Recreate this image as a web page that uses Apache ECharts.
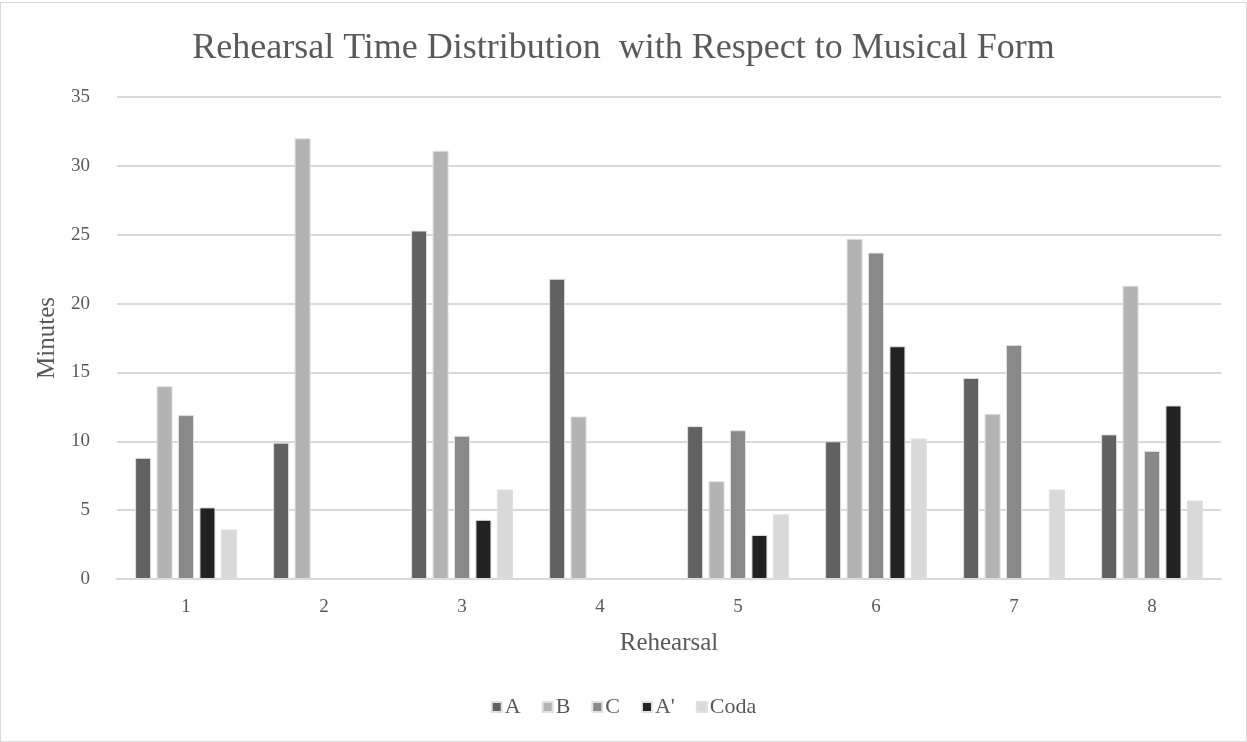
<!DOCTYPE html>
<html><head><meta charset="utf-8">
<script src="https://cdn.jsdelivr.net/npm/echarts@6/dist/echarts.min.js"></script>
<style>html,body{margin:0;padding:0;background:#fff}#c{width:1245px;height:738px;border:1px solid #d9d9d9;margin-top:2px}</style>
</head><body><div id="c"></div>
<script>
const categories = ['1','2','3','4','5','6','7','8'];
const seriesNames = ['A','B','C',"A'",'Coda'];
const valuesA = [8.8, 9.9, 25.3, 21.8, 11.1, 10.0, 14.6, 10.5];
const valuesB = [14.0, 32.0, 31.1, 11.8, 7.1, 24.7, 12.0, 21.3];
const valuesC = [11.9, null, 10.4, null, 10.8, 23.7, 17.0, 9.3];
const valuesAp = [5.2, null, 4.3, null, 3.2, 16.9, null, 12.6];
const valuesCoda = [3.6, null, 6.5, null, 4.7, 10.2, 6.5, 5.7];
const colors = ['#616161','#b3b3b3','#898989','#222222','#d9d9d9'];
const allValues = [valuesA, valuesB, valuesC, valuesAp, valuesCoda];
const font = '"Liberation Serif", "Times New Roman", serif';
const chart = echarts.init(document.getElementById('c'));
chart.setOption({
  animation: false,
  textStyle: {fontFamily: font},
  title: {text: 'Rehearsal Time Distribution  with Respect to Musical Form', left: 'center', top: 23,
    textStyle: {fontFamily: font, fontSize: 36, fontWeight: 'normal', color: '#595959'}},
  grid: {left: 116, right: 25, top: 94, bottom: 162},
  legend: {bottom: 18, left: 'center', itemWidth: 10, itemHeight: 10, itemGap: 21,
    textStyle: {fontFamily: font, fontSize: 22, color: '#595959', padding: [0,0,0,-2]},
    data: seriesNames.map(n => ({name: n, icon: 'rect'}))},
  xAxis: {type: 'category', data: categories, name: 'Rehearsal', nameLocation: 'middle', nameGap: 52,
    nameTextStyle: {fontFamily: font, fontSize: 25, color: '#595959'},
    axisLine: {lineStyle: {color: '#d9d9d9', width: 2}}, axisTick: {show: false},
    axisLabel: {fontFamily: font, fontSize: 19, color: '#595959', margin: 19}},
  yAxis: {type: 'value', min: 0, max: 35, interval: 5, name: 'Minutes', nameLocation: 'middle', nameGap: 54,
    nameTextStyle: {fontFamily: font, fontSize: 25, color: '#595959'},
    axisLine: {show: false}, axisTick: {show: false},
    splitLine: {lineStyle: {color: '#d9d9d9', width: 2}},
    axisLabel: {fontFamily: font, fontSize: 19, color: '#595959', margin: 27}},
  series: seriesNames.map((n, i) => ({
    name: n, type: 'bar', data: allValues[i], barWidth: 16, barGap: '34%',
    itemStyle: {color: colors[i], borderColor: '#e0e0e0', borderWidth: 1}
  }))
});
</script></body></html>
